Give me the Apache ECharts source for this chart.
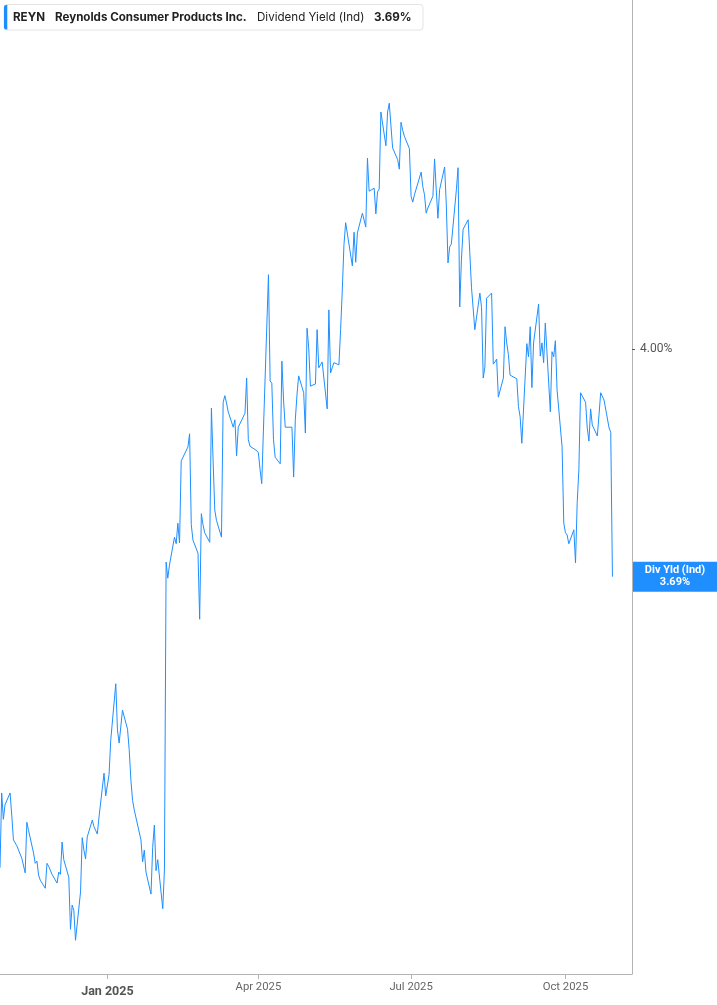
<!DOCTYPE html>
<html>
<head>
<meta charset="utf-8">
<script src="https://cdn.jsdelivr.net/npm/echarts@6/dist/echarts.min.js"></script>
<style>
html,body{margin:0;padding:0;background:#fff;}
#c{width:717px;height:1005px;}
</style>
</head>
<body>
<div id="c"></div>
<script>
const ticker = 'REYN';
const companyName = 'Reynolds Consumer Products Inc.';
const metricName = 'Dividend Yield (Ind)';
const lastLabel = '3.69%';
const endBoxTitle = 'Div Yld (Ind)';
const startDate = [2024, 9, 29];   // Oct 29 2024
const endDate = [2025, 9, 29];     // Oct 29 2025
const holidays = ['2024-11-28','2024-12-25','2025-01-01','2025-01-09','2025-01-20','2025-02-17','2025-04-18','2025-05-26','2025-06-19','2025-07-04','2025-09-01'];
const xTickDates = [[2025,0,1],[2025,3,1],[2025,6,1],[2025,9,1]];
const yTickValues = [4.0];
const yRange = [3.148, 4.4768];
const xRangeDates = [[2024,9,29,0],[2025,10,9,16]];

// dividend yield (%) per trading day, week by week
const yieldValues = [
// Oct 29 - Nov 1
3.293, 3.395, 3.359, 3.379,
// Nov 4-8
3.395, 3.365, 3.331, 3.327, 3.323,
// Nov 11-15
3.306, 3.308, 3.286, 3.355, 3.344,
// Nov 18-22
3.313, 3.299, 3.302, 3.283, 3.276,
// Nov 25-29
3.265, 3.299, 3.295, 3.284,
// Dec 2-6
3.272, 3.287, 3.284, 3.328, 3.304,
// Dec 9-13
3.280, 3.209, 3.242, 3.235, 3.194,
// Dec 16-20
3.260, 3.334, 3.317, 3.305, 3.335,
// Dec 23-27
3.358, 3.349, 3.339, 3.362,
// Dec 30 - Jan 3
3.422, 3.391, 3.420, 3.467,
// Jan 6-10
3.544, 3.481, 3.463, 3.508,
// Jan 13-17
3.482, 3.454, 3.413, 3.385, 3.372,
// Jan 21-24
3.331, 3.301, 3.317, 3.287,
// Jan 27-31
3.257, 3.321, 3.351, 3.289, 3.304,
// Feb 3-7
3.237, 3.290, 3.710, 3.688, 3.706,
// Feb 10-14
3.744, 3.735, 3.763, 3.736, 3.848,
// Feb 18-21
3.867, 3.885, 3.761, 3.740,
// Feb 24-28
3.722, 3.632, 3.776, 3.761, 3.750,
// Mar 3-7
3.737, 3.920, 3.849, 3.781, 3.767,
// Mar 10-14
3.744, 3.928, 3.937, 3.927, 3.915,
// Mar 17-21
3.894, 3.904, 3.855, 3.894, 3.892,
// Mar 24-28
3.913, 3.961, 3.877, 3.868, 3.867,
// Mar 31 - Apr 4
3.862, 3.859, 3.836, 3.817, 3.890,
// Apr 7-11
4.102, 3.957, 3.954, 3.877, 3.853,
// Apr 14-17
3.844, 3.984, 3.931, 3.894,
// Apr 21-25
3.894, 3.826, 3.904, 3.938, 3.964,
// Apr 28 - May 2
3.941, 3.886, 4.029, 4.002, 3.950,
// May 5-9
3.953, 4.027, 3.975, 3.979, 3.983,
// May 12-16
3.919, 4.054, 3.968, 3.975, 3.982,
// May 19-23
3.979, 4.027, 4.081, 4.143, 4.173,
// May 27-30
4.114, 4.160, 4.119, 4.159,
// Jun 2-6
4.186, 4.186, 4.167, 4.261, 4.216,
// Jun 9-13
4.220, 4.185, 4.215, 4.219, 4.324,
// Jun 16-20
4.278, 4.324, 4.336, 4.275,
// Jun 23-27
4.259, 4.246, 4.310, 4.299, 4.291,
// Jun 30 - Jul 3
4.274, 4.209, 4.201, 4.211,
// Jul 7-11
4.242, 4.222, 4.211, 4.186, 4.193,
// Jul 14-18
4.209, 4.260, 4.218, 4.179, 4.218,
// Jul 21-25
4.249, 4.197, 4.118, 4.140, 4.144,
// Jul 28 - Aug 1
4.218, 4.248, 4.058, 4.122, 4.164,
// Aug 4-8
4.177, 4.132, 4.085, 4.083, 4.027,
// Aug 11-15
4.077, 4.057, 3.961, 3.976, 4.070,
// Aug 18-22
4.077, 3.980, 3.983, 3.987, 3.935,
// Aug 25-29
3.961, 4.031, 4.009, 3.993, 3.965,
// Sep 2-5
3.960, 3.922, 3.908, 3.872,
// Sep 8-12
4.008, 3.990, 4.031, 3.948, 4.009,
// Sep 15-19
4.062, 3.991, 4.009, 3.982, 4.036,
// Sep 22-26
3.915, 3.997, 3.990, 4.012, 3.945,
// Sep 29 - Oct 3
3.867, 3.763, 3.750, 3.747, 3.735,
// Oct 6-10
3.754, 3.709, 3.791, 3.836, 3.941,
// Oct 13-17
3.928, 3.893, 3.875, 3.919, 3.897,
// Oct 20-24
3.882, 3.911, 3.941, 3.943, 3.931,
// Oct 27-29
3.893, 3.887, 3.690
];

// build trading-day calendar (timestamps)
function pad(n){return (n<10?'0':'')+n;}
const tradingDays = [];
{
  const d = new Date(startDate[0], startDate[1], startDate[2]);
  const e = new Date(endDate[0], endDate[1], endDate[2]);
  while (d <= e) {
    const wd = d.getDay();
    const s = d.getFullYear()+'-'+pad(d.getMonth()+1)+'-'+pad(d.getDate());
    if (wd !== 0 && wd !== 6 && holidays.indexOf(s) < 0) tradingDays.push(d.getTime());
    d.setDate(d.getDate()+1);
  }
}
const seriesData = tradingDays.slice(0, yieldValues.length).map((t, i) => [t, yieldValues[i]]);
const monthNames = ['Jan','Feb','Mar','Apr','May','Jun','Jul','Aug','Sep','Oct','Nov','Dec'];
const xTickValues = xTickDates.map(a => new Date(a[0], a[1], a[2]).getTime());
const xMin = new Date(...xRangeDates[0]).getTime();
const xMax = new Date(...xRangeDates[1]).getTime();

const chart = echarts.init(document.getElementById('c'), null, {renderer: 'canvas'});
const option = {
  animation: false,
  backgroundColor: '#ffffff',
  grid: {left: 0, right: 85, top: 0, bottom: 31, containLabel: false},
  xAxis: {
    type: 'value',
    min: xMin,
    max: xMax,
    axisLine: {show: true, onZero: false, lineStyle: {color: '#b4b4b4', width: 1}},
    axisTick: {show: true, customValues: xTickValues, length: 5, lineStyle: {color: '#b4b4b4'}},
    splitLine: {show: false},
    axisLabel: {
      customValues: xTickValues,
      margin: 8,
      fontFamily: 'Roboto',
      formatter: function (v) {
        const d = new Date(v);
        const t = monthNames[d.getMonth()] + ' ' + d.getFullYear();
        return d.getMonth() === 0 ? '{b|' + t + '}' : '{n|' + t + '}';
      },
      rich: {
        b: {fontFamily: 'Roboto', fontWeight: 'bold', fontSize: 12.5, color: '#555555', padding: [3,0,0,0]},
        n: {fontFamily: 'Roboto', fontSize: 11.3, color: '#666666'}
      }
    }
  },
  yAxis: {
    type: 'value',
    position: 'right',
    min: yRange[0],
    max: yRange[1],
    axisLine: {show: true, lineStyle: {color: '#b4b4b4', width: 1}},
    axisTick: {show: true, customValues: yTickValues, length: 3, lineStyle: {color: '#555'}},
    splitLine: {show: false},
    axisLabel: {
      customValues: yTickValues,
      margin: 8,
      fontFamily: 'Roboto',
      fontSize: 12,
      color: '#555555',
      formatter: v => v.toFixed(2) + '%'
    }
  },
  series: [{
    type: 'line',
    data: seriesData,
    showSymbol: false,
    symbol: 'none',
    lineStyle: {color: '#1f8fff', width: 1},
    clip: true
  }]
};
chart.setOption(option);

// header + end-value tag
const lastVal = yieldValues[yieldValues.length - 1];
const yPix = chart.convertToPixel({yAxisIndex: 0}, lastVal);
const hdrFont = 'Inter, Roboto, sans-serif';
const hdrSize = '11.6px ';
chart.setOption({
  graphic: [
    {type: 'rect', shape: {x: 4, y: 4.5, width: 419, height: 25.5, r: 3}, style: {fill: '#ffffff', stroke: '#e4e4e4', lineWidth: 1}, z: 100},
    {type: 'rect', shape: {x: 4, y: 5, width: 3.3, height: 24.5, r: [2,0,0,2]}, style: {fill: '#1f8fff'}, z: 101},
    {type: 'text', x: 13, y: 17.5, style: {text: ticker, font: 'bold ' + hdrSize + hdrFont, fill: '#222', textVerticalAlign: 'middle'}, z: 101},
    {type: 'text', x: 55, y: 17.5, style: {text: companyName, font: 'bold ' + hdrSize + hdrFont, fill: '#222', textVerticalAlign: 'middle'}, z: 101},
    {type: 'text', x: 257, y: 17.5, style: {text: metricName, font: hdrSize + hdrFont, fill: '#222', textVerticalAlign: 'middle'}, z: 101},
    {type: 'text', x: 374, y: 17.5, style: {text: lastLabel, font: 'bold ' + hdrSize + hdrFont, fill: '#222', textVerticalAlign: 'middle'}, z: 101},
    {type: 'rect', shape: {x: 633, y: yPix - 15, width: 84, height: 30}, style: {fill: '#1f8fff'}, z: 100},
    {type: 'text', x: 675, y: yPix - 6, style: {text: endBoxTitle, font: 'bold 11px Roboto, sans-serif', fill: '#fff', textAlign: 'center', textVerticalAlign: 'middle'}, z: 101},
    {type: 'text', x: 675, y: yPix + 6, style: {text: lastLabel, font: 'bold 11px Roboto, sans-serif', fill: '#fff', textAlign: 'center', textVerticalAlign: 'middle'}, z: 101}
  ]
});
</script>
</body>
</html>
